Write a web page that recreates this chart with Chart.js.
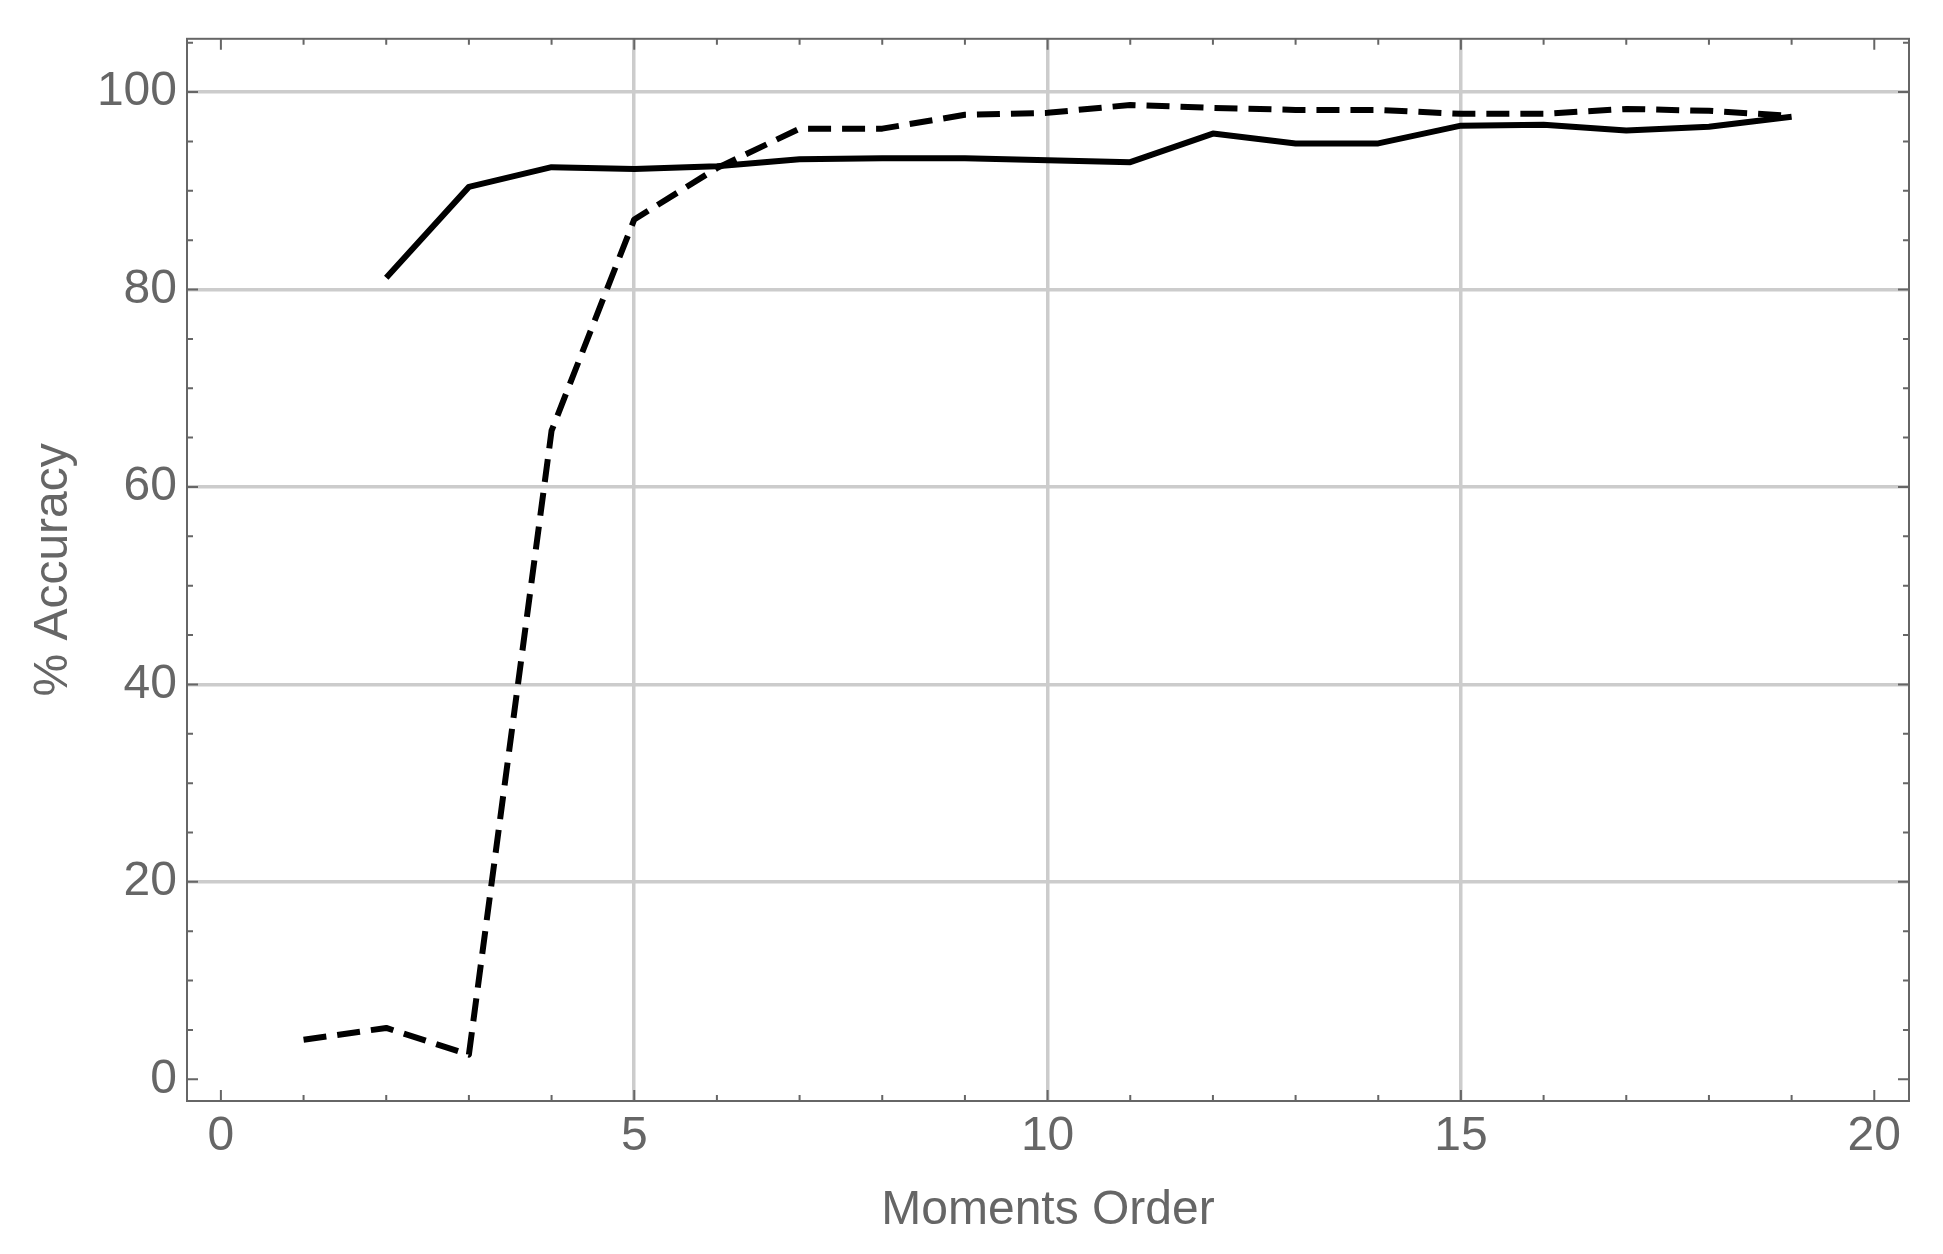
<!DOCTYPE html>
<html>
<head>
<meta charset="utf-8">
<script src="https://cdn.jsdelivr.net/npm/chart.js@4.4.1/dist/chart.umd.min.js"></script>
<style>
  html, body { margin: 0; padding: 0; background: #fff; }
  #wrap { width: 1943px; height: 1254px; }
</style>
</head>
<body>
<div id="wrap"><canvas id="chart"></canvas></div>
<script>
// moments order (x) and accuracy values
const orders = [1, 2, 3, 4, 5, 6, 7, 8, 9, 10, 11, 12, 13, 14, 15, 16, 17, 18, 19];
const dashedAcc = [4.0, 5.2, 2.5, 65.7, 87.1, 92.3, 96.3, 96.3, 97.7, 97.9, 98.7, 98.4, 98.2, 98.2, 97.8, 97.8, 98.3, 98.1, 97.6];
const solidAcc = [null, 81.2, 90.4, 92.4, 92.2, 92.5, 93.2, 93.3, 93.3, 93.1, 92.9, 95.8, 94.8, 94.8, 96.6, 96.7, 96.1, 96.5, 97.5];

const xTicks = [0, 5, 10, 15, 20];
const yTicks = [0, 20, 40, 60, 80, 100];

const FONT = { family: '"Liberation Sans", Arial, sans-serif', size: 48 };
const GREY = '#666666';

const toPoints = ys => orders.map((x, i) => ({ x: x, y: ys[i] }));

// frame with small inward ticks on every side
const framePlugin = {
    id: 'frame',
    afterDraw(chart) {
        const { ctx, chartArea: a, scales } = chart;
        const xs = scales.x, ys = scales.y;
        ctx.save();
        ctx.strokeStyle = GREY;
        ctx.lineWidth = 2;
        ctx.strokeRect(a.left, a.top, a.right - a.left, a.bottom - a.top);
        ctx.beginPath();
        for (let v = 0; v <= 20; v++) {
            const px = xs.getPixelForValue(v);
            const len = v % 5 === 0 ? 11 : 6;
            ctx.moveTo(px, a.bottom); ctx.lineTo(px, a.bottom - len);
            ctx.moveTo(px, a.top); ctx.lineTo(px, a.top + len);
        }
        for (let v = 0; v <= 105; v += 5) {
            const py = ys.getPixelForValue(v);
            const len = v % 20 === 0 ? 11 : 6;
            ctx.moveTo(a.left, py); ctx.lineTo(a.left + len, py);
            ctx.moveTo(a.right, py); ctx.lineTo(a.right - len, py);
        }
        ctx.stroke();
        ctx.restore();
    }
};

new Chart(document.getElementById('chart'), {
    type: 'line',
    data: {
        datasets: [
            {
                data: toPoints(solidAcc),
                borderColor: '#000',
                borderWidth: 6,
                borderJoinStyle: 'round',
                pointRadius: 0,
                tension: 0,
                spanGaps: false
            },
            {
                data: toPoints(dashedAcc),
                borderColor: '#000',
                borderWidth: 6,
                borderDash: [23, 11],
                borderJoinStyle: 'round',
                pointRadius: 0,
                tension: 0
            }
        ]
    },
    options: {
        responsive: true,
        maintainAspectRatio: false,
        devicePixelRatio: 1,
        animation: false,
        layout: { padding: { top: 37, right: 34, left: 0, bottom: 0 } },
        plugins: { legend: { display: false }, tooltip: { enabled: false } },
        scales: {
            x: {
                type: 'linear',
                min: -0.41,
                max: 20.42,
                afterBuildTicks: s => { s.ticks = xTicks.map(v => ({ value: v })); },
                afterFit: s => { s.height = 153; },
                grid: {
                    drawTicks: false,
                    lineWidth: 3.5,
                    color: c => (c.tick && c.tick.value > 0 && c.tick.value < 20) ? '#cccccc' : 'rgba(0,0,0,0)'
                },
                border: { display: false },
                ticks: { color: GREY, font: FONT, padding: 7, maxRotation: 0 },
                title: {
                    display: true,
                    text: 'Moments Order',
                    color: GREY,
                    font: FONT,
                    padding: { top: 0, bottom: 14 }
                }
            },
            y: {
                type: 'linear',
                min: -2.2,
                max: 105.4,
                afterBuildTicks: s => { s.ticks = yTicks.map(v => ({ value: v })); },
                afterFit: s => { s.width = 187; },
                grid: {
                    drawTicks: false,
                    lineWidth: 3.5,
                    color: c => (c.tick && c.tick.value > 0) ? '#cccccc' : 'rgba(0,0,0,0)'
                },
                border: { display: false },
                ticks: { color: GREY, font: FONT, padding: 10 },
                title: {
                    display: true,
                    text: '% Accuracy',
                    color: GREY,
                    font: FONT,
                    padding: { top: 25, bottom: 0 }
                }
            }
        }
    },
    plugins: [framePlugin]
});
</script>
</body>
</html>
